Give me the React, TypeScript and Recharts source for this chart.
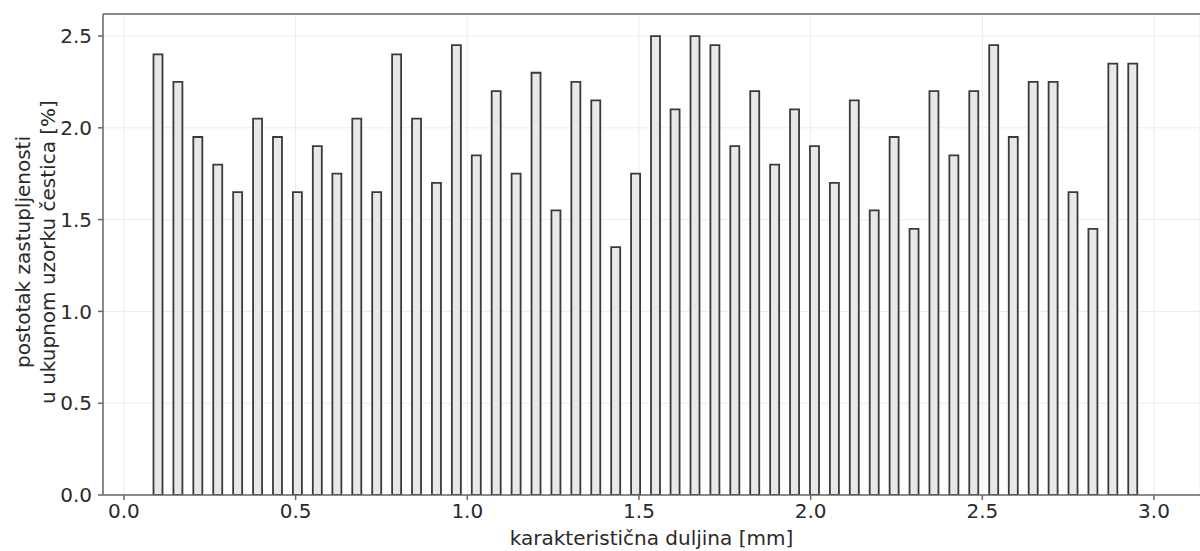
import React from "react";
import {
  BarChart,
  Bar,
  XAxis,
  YAxis,
  CartesianGrid,
  ReferenceLine,
} from "recharts";

// bar centres along the x axis [mm]
const lengths = [
  0.1, 0.158, 0.216, 0.274, 0.332, 0.39, 0.448, 0.506, 0.564, 0.621,
  0.679, 0.737, 0.795, 0.853, 0.911, 0.969, 1.027, 1.085, 1.143, 1.201,
  1.259, 1.317, 1.375, 1.433, 1.491, 1.549, 1.606, 1.664, 1.722, 1.78,
  1.838, 1.896, 1.954, 2.012, 2.07, 2.128, 2.186, 2.244, 2.302, 2.36,
  2.418, 2.476, 2.534, 2.591, 2.649, 2.707, 2.765, 2.823, 2.881, 2.939,
];

// share in the whole sample [%]
const shares = [
  2.4, 2.25, 1.95, 1.8, 1.65, 2.05, 1.95, 1.65, 1.9, 1.75,
  2.05, 1.65, 2.4, 2.05, 1.7, 2.45, 1.85, 2.2, 1.75, 2.3,
  1.55, 2.25, 2.15, 1.35, 1.75, 2.5, 2.1, 2.5, 2.45, 1.9,
  2.2, 1.8, 2.1, 1.9, 1.7, 2.15, 1.55, 1.95, 1.45, 2.2,
  1.85, 2.2, 2.45, 1.95, 2.25, 2.25, 1.65, 1.45, 2.35, 2.35,
];

const xTicks = [0, 0.5, 1, 1.5, 2, 2.5, 3];
const yTicks = [0, 0.5, 1, 1.5, 2, 2.5];

const data = lengths.map((x, i) => ({ x, share: shares[i] }));

const FONT = "'DejaVu Sans', sans-serif";
const TEXT = "#2a2a2a";
const SPINE = "#666";

const YLabel = () => (
  <text
    transform="translate(30, 252) rotate(-90)"
    textAnchor="middle"
    fontSize={20}
    fontFamily={FONT}
    fill={TEXT}
  >
    <tspan x={0} dy={0}>postotak zastupljenosti</tspan>
    <tspan x={0} dy={25}>u ukupnom uzorku čestica [%]</tspan>
  </text>
);

export default function App() {
  return (
    <div
      style={{
        position: "absolute",
        left: 0,
        top: 0,
        width: 1200,
        height: 551,
        overflow: "hidden",
        background: "#fff",
        fontFamily: FONT,
      }}
    >
      <BarChart
        width={1200}
        height={551}
        data={data}
        margin={{ top: 14, right: 0, bottom: 0, left: 0 }}
      >
        <CartesianGrid stroke="#ececec" strokeWidth={1} />
        <XAxis
          dataKey="x"
          type="number"
          domain={[-0.061, 3.134]}
          allowDataOverflow
          ticks={xTicks}
          tickFormatter={(v: number) => v.toFixed(1)}
          height={56}
          stroke={SPINE}
          strokeWidth={1.5}
          tickSize={5}
          tickMargin={4}
          tick={{ fill: TEXT, fontSize: 20, fontFamily: FONT }}
          label={{
            value: "karakteristična duljina [mm]",
            position: "insideBottom",
            offset: 6,
            fill: TEXT,
            fontSize: 20,
            fontFamily: FONT,
          }}
        />
        <YAxis
          type="number"
          domain={[0, 2.62]}
          allowDataOverflow
          ticks={yTicks}
          tickFormatter={(v: number) => v.toFixed(1)}
          width={103}
          stroke={SPINE}
          strokeWidth={1.5}
          tickSize={5}
          tickMargin={6}
          tick={{ fill: TEXT, fontSize: 20, fontFamily: FONT }}
          label={<YLabel />}
        />
        <ReferenceLine y={2.62} stroke={SPINE} strokeWidth={1.5} />
        <Bar
          dataKey="share"
          barSize={9}
          fill="#e8e8e8"
          stroke="#3a3a3a"
          strokeWidth={1.8}
          isAnimationActive={false}
        />
      </BarChart>
    </div>
  );
}
